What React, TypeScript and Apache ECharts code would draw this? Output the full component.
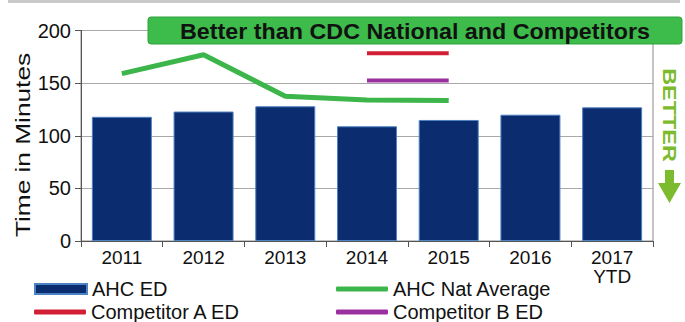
import React, { useEffect, useRef } from "react";
import * as echarts from "echarts";

const categories = ["2011", "2012", "2013", "2014", "2015", "2016", "2017\nYTD"];
const ahcEd = [118, 123, 128, 109, 115, 120, 127];
const natAverage = [159, 177, 137.5, 134, 133.5, null, null];
const competitorA = [null, null, null, 178.5, 178.5, null, null];
const competitorB = [null, null, null, 152.5, 152.5, null, null];
const yTicks = { min: 0, max: 200, interval: 50 };

const FONT = "'Liberation Sans', Arial, sans-serif";

export default function App() {
  const ref = useRef<HTMLDivElement>(null);
  useEffect(() => {
    if (!ref.current) return;
    const chart = echarts.init(ref.current, null, { renderer: "svg" });
    const legendItem = (name: string, left: number, top: number, h: number, icon: string) => ({
      data: [{ name, icon }],
      left,
      top,
      itemWidth: 52,
      itemHeight: h,
      itemGap: 0,
      padding: 0,
      textStyle: { fontFamily: FONT, fontSize: 20, lineHeight: 18, color: "#111" },
    });
    chart.setOption({
      animation: false,
      backgroundColor: "#ffffff",
      textStyle: { fontFamily: FONT },
      grid: {
        left: 81,
        right: 32,
        top: 30.5,
        bottom: 81,
        show: true,
        borderColor: "#8a8a8a",
        borderWidth: 1,
      },
      legend: [
        legendItem("AHC ED", 34, 279, 10, "rect"),
        legendItem("AHC Nat Average", 336, 279, 5, "roundRect"),
        legendItem("Competitor A ED", 34, 302, 5, "roundRect"),
        legendItem("Competitor B ED", 336, 302, 5, "roundRect"),
      ],
      xAxis: {
        type: "category",
        data: categories,
        boundaryGap: true,
        axisLine: { show: true, lineStyle: { color: "#555", width: 1 } },
        axisTick: { show: true, length: 6, lineStyle: { color: "#555" } },
        axisLabel: {
          fontFamily: FONT,
          fontSize: 19,
          color: "#111",
          margin: 7,
          lineHeight: 19,
        },
      },
      yAxis: {
        type: "value",
        min: yTicks.min,
        max: yTicks.max,
        interval: yTicks.interval,
        axisLine: { show: true, lineStyle: { color: "#555", width: 1 } },
        axisTick: { show: true, length: 6, lineStyle: { color: "#555" } },
        axisLabel: { fontFamily: FONT, fontSize: 20, color: "#111", margin: 10 },
        splitLine: { show: true, lineStyle: { color: "#a8a8a8", width: 1 } },
      },
      series: [
        {
          name: "AHC ED",
          type: "bar",
          data: ahcEd,
          barWidth: 60,
          itemStyle: { color: "#0b2c6e", borderColor: "#4d82c4", borderWidth: 1 },
        },
        {
          name: "AHC Nat Average",
          type: "line",
          data: natAverage,
          showSymbol: false,
          symbol: "none",
          lineStyle: { color: "#3cb54a", width: 5 },
          itemStyle: { color: "#3cb54a" },
        },
        {
          name: "Competitor A ED",
          type: "line",
          data: competitorA,
          showSymbol: false,
          symbol: "none",
          lineStyle: { color: "#d21f36", width: 4 },
          itemStyle: { color: "#d21f36" },
        },
        {
          name: "Competitor B ED",
          type: "line",
          data: competitorB,
          showSymbol: false,
          symbol: "none",
          lineStyle: { color: "#9a2fa0", width: 4 },
          itemStyle: { color: "#9a2fa0" },
        },
      ],
      graphic: [
        { type: "rect", shape: { x: 8, y: 0, width: 672, height: 3 }, style: { fill: "#c9c9c9" } },
        {
          type: "rect",
          shape: { x: 148, y: 17, width: 534, height: 27, r: 3 },
          style: { fill: "#3dbb4b", stroke: "#2fa33d", lineWidth: 1 },
          z: 10,
        },
        {
          type: "text",
          x: 415,
          y: 31,
          z: 11,
          scaleX: 1.06,
          style: {
            text: "Better than CDC National and Competitors",
            fontFamily: FONT,
            fontWeight: "bold",
            fontSize: 22,
            fill: "#111",
            textAlign: "center",
            textVerticalAlign: "middle",
          },
        },
        {
          type: "text",
          x: 22,
          y: 145,
          rotation: Math.PI / 2,
          scaleX: 1.25,
          style: {
            text: "Time in Minutes",
            fontFamily: FONT,
            fontSize: 21,
            fill: "#111",
            textAlign: "center",
            textVerticalAlign: "middle",
          },
        },
        {
          type: "text",
          x: 669,
          y: 115,
          rotation: -Math.PI / 2,
          scaleX: 1.3,
          style: {
            text: "BETTER",
            fontFamily: FONT,
            fontWeight: "bold",
            fontSize: 18,
            fill: "#7cbb2e",
            textAlign: "center",
            textVerticalAlign: "middle",
          },
        },
        {
          type: "polygon",
          shape: {
            points: [
              [665, 170],
              [674, 170],
              [674, 183],
              [681, 183],
              [669.5, 203],
              [658, 183],
              [665, 183],
            ],
          },
          style: { fill: "#7cbb2e" },
        },
      ],
    });
    return () => chart.dispose();
  }, []);
  return (
    <div
      ref={ref}
      style={{ position: "fixed", left: 0, top: 0, width: 685, height: 322 }}
    />
  );
}
